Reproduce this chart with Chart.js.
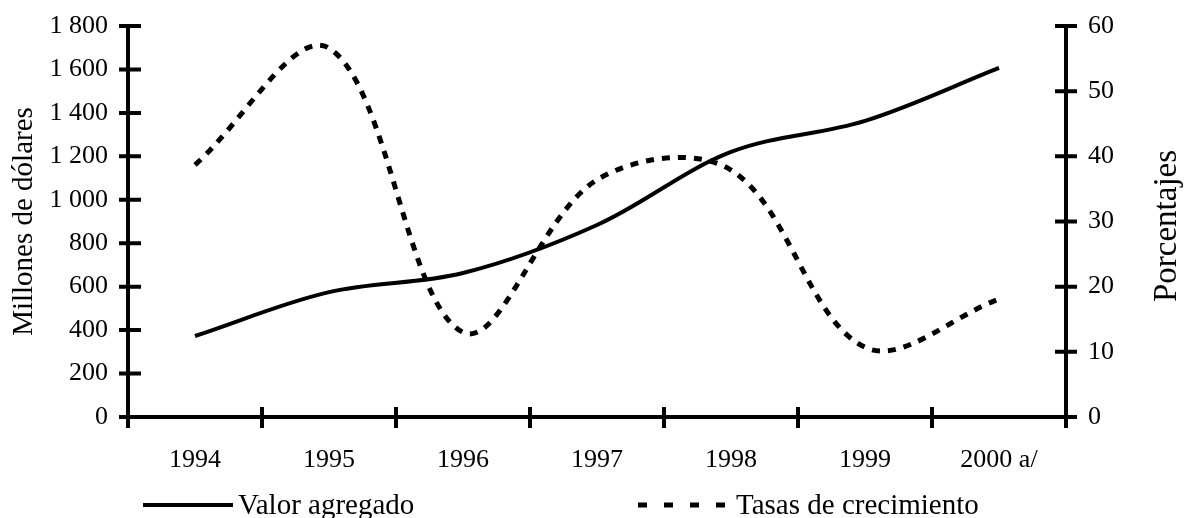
<!DOCTYPE html>
<html lang="es">
<head>
    <meta charset="UTF-8">
    <title>Valor agregado y tasas de crecimiento</title>
    <script src="https://cdn.jsdelivr.net/npm/chart.js@4.4.1/dist/chart.umd.min.js"></script>
    <style>
        * { margin: 0; padding: 0; box-sizing: border-box; }
        body { background: #fff; }
        .wrap { width: 1184px; height: 518px; position: relative; }
    </style>
</head>
<body>
    <div class="wrap"><canvas id="chart"></canvas></div>

    <script>
        // Data
        const years = ['1994', '1995', '1996', '1997', '1998', '1999', '2000 a/'];
        const valorAgregado = [373, 575, 663, 884, 1220, 1363, 1607];
        const tasasCrecimiento = [38.7, 56.6, 13.0, 36.4, 37.9, 10.7, 18.1];
        const leftTicks = [0, 200, 400, 600, 800, 1000, 1200, 1400, 1600, 1800];
        const rightTicks = [0, 10, 20, 30, 40, 50, 60];

        const FONT = "'Liberation Serif', 'Times New Roman', serif";
        const fmt = v => v >= 1000 ? Math.floor(v / 1000) + ' ' + String(v % 1000).padStart(3, '0') : String(v);

        // tick marks that cross the axis lines
        const crossTicks = {
            id: 'crossTicks',
            afterDraw(chart) {
                const {ctx, chartArea: a, scales} = chart;
                ctx.save();
                ctx.strokeStyle = '#000';
                ctx.lineWidth = 4;
                ctx.beginPath();
                leftTicks.forEach(v => {
                    const y = scales.y.getPixelForValue(v);
                    ctx.moveTo(a.left - 9, y); ctx.lineTo(a.left + 13, y);
                });
                rightTicks.forEach(v => {
                    const y = scales.y1.getPixelForValue(v);
                    ctx.moveTo(a.right - 11, y); ctx.lineTo(a.right + 11, y);
                });
                for (let i = 0; i <= years.length; i++) {
                    const x = scales.x.getPixelForValue(i - 0.5);
                    ctx.moveTo(x, a.bottom - 10); ctx.lineTo(x, a.bottom + 11);
                }
                ctx.stroke();

                // right axis title, read bottom to top like the left one
                ctx.fillStyle = '#000';
                ctx.font = '33px ' + FONT;
                ctx.textAlign = 'center';
                ctx.textBaseline = 'middle';
                ctx.translate(1167, 226);
                ctx.rotate(-Math.PI / 2);
                ctx.fillText('Porcentajes', 0, 0);
                ctx.restore();
            }
        };

        // legend drawn under the axis
        const bottomLegend = {
            id: 'bottomLegend',
            afterDraw(chart) {
                const {ctx} = chart;
                const spots = [{x: 143, len: 90, tx: 238, dash: []}, {x: 638, len: 88, tx: 736, dash: [9, 17]}];
                ctx.save();
                ctx.font = '29px ' + FONT;
                ctx.fillStyle = '#000';
                ctx.strokeStyle = '#000';
                ctx.textBaseline = 'middle';
                chart.data.datasets.forEach((ds, i) => {
                    const s = spots[i];
                    ctx.lineWidth = ds.borderWidth;
                    ctx.setLineDash(s.dash);
                    ctx.beginPath();
                    ctx.moveTo(s.x, 505); ctx.lineTo(s.x + s.len, 505);
                    ctx.stroke();
                    ctx.fillText(ds.label, s.tx, 506);
                });
                ctx.restore();
            }
        };

        new Chart(document.getElementById('chart'), {
            type: 'line',
            data: {
                labels: years,
                datasets: [{
                    label: 'Valor agregado',
                    data: valorAgregado,
                    yAxisID: 'y',
                    borderColor: '#000',
                    borderWidth: 4,
                    pointRadius: 0,
                    tension: 0.35
                }, {
                    label: 'Tasas de crecimiento',
                    data: tasasCrecimiento,
                    yAxisID: 'y1',
                    borderColor: '#000',
                    borderWidth: 5,
                    borderDash: [8, 8],
                    pointRadius: 0,
                    tension: 0.35
                }]
            },
            options: {
                responsive: true,
                maintainAspectRatio: false,
                animation: false,
                layout: { padding: { top: 26, left: 0, right: 0, bottom: 0 } },
                plugins: {
                    legend: { display: false },
                    tooltip: { enabled: false }
                },
                scales: {
                    x: {
                        offset: true,
                        grid: { display: false, drawTicks: true, tickLength: 28 },
                        border: { display: true, color: '#000', width: 4 },
                        ticks: { color: '#000', font: { family: FONT, size: 26 }, padding: 0, maxRotation: 0 },
                        afterFit: s => { s.height = 101; }
                    },
                    y: {
                        position: 'left',
                        min: 0, max: 1800,
                        afterBuildTicks: s => { s.ticks = leftTicks.map(v => ({value: v})); },
                        grid: { display: false, drawTicks: true, tickLength: 20 },
                        border: { display: true, color: '#000', width: 4 },
                        ticks: { color: '#000', font: { family: FONT, size: 26 }, padding: 0, callback: v => fmt(v) },
                        title: { display: true, text: 'Millones de dólares', color: '#000', font: { family: FONT, size: 29 }, padding: { top: 7, bottom: 0 } },
                        afterFit: s => { s.width = 128; }
                    },
                    y1: {
                        position: 'right',
                        min: 0, max: 60,
                        afterBuildTicks: s => { s.ticks = rightTicks.map(v => ({value: v})); },
                        grid: { display: false, drawTicks: true, tickLength: 22 },
                        border: { display: true, color: '#000', width: 4 },
                        ticks: { color: '#000', font: { family: FONT, size: 26 }, padding: 0 },
                        afterFit: s => { s.width = 118; }
                    }
                }
            },
            plugins: [crossTicks, bottomLegend]
        });
    </script>
</body>
</html>
